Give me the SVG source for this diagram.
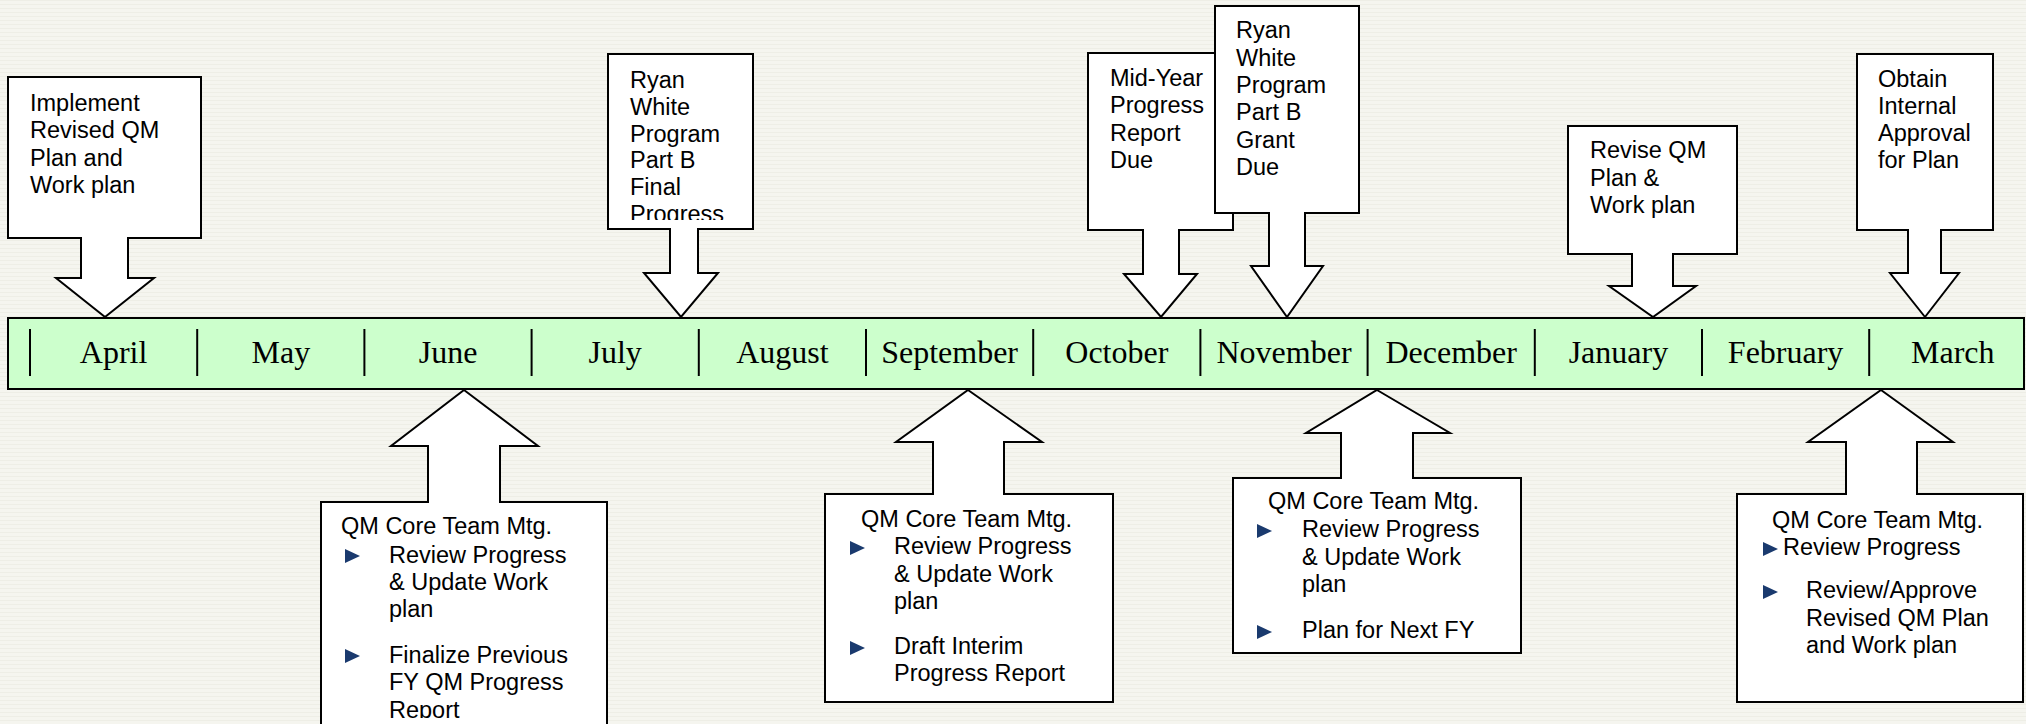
<svg xmlns="http://www.w3.org/2000/svg" width="2026" height="724" viewBox="0 0 2026 724">
<defs>
<pattern id="bg" width="4" height="4" patternUnits="userSpaceOnUse">
<rect width="4" height="4" fill="#F5F5EF"/>
<rect y="0" width="4" height="1" fill="#EEEEE6"/>
</pattern>
<clipPath id="clipFinal"><rect x="608" y="54" width="145" height="166"/></clipPath>
<clipPath id="clipJune"><rect x="321" y="502" width="286" height="216"/></clipPath>
<polygon id="bul" points="0,-14 15,-7 0,0"/>
</defs>
<style>
.co{fill:#FFFFFF;stroke:#000000;stroke-width:2;stroke-linejoin:miter}
.t{font-family:"Liberation Sans",Arial,sans-serif;font-size:23.5px;fill:#000000}
.m{font-family:"Liberation Serif","Times New Roman",serif;font-size:32px;fill:#000000;text-anchor:middle}
.dv{stroke:#000000;stroke-width:2}
.b{fill:#1A3A6E}
</style>
<rect width="2026" height="724" fill="url(#bg)"/>

<g id="timeline">
<rect x="8" y="318" width="2016" height="71" fill="#CCFFCC" stroke="#000000" stroke-width="2"/>
<line class="dv" x1="30" y1="329" x2="30" y2="376"/>
<line class="dv" x1="197.2" y1="329" x2="197.2" y2="376"/>
<line class="dv" x1="364.4" y1="329" x2="364.4" y2="376"/>
<line class="dv" x1="531.6" y1="329" x2="531.6" y2="376"/>
<line class="dv" x1="698.8" y1="329" x2="698.8" y2="376"/>
<line class="dv" x1="866" y1="329" x2="866" y2="376"/>
<line class="dv" x1="1033.2" y1="329" x2="1033.2" y2="376"/>
<line class="dv" x1="1200.4" y1="329" x2="1200.4" y2="376"/>
<line class="dv" x1="1367.6" y1="329" x2="1367.6" y2="376"/>
<line class="dv" x1="1534.8" y1="329" x2="1534.8" y2="376"/>
<line class="dv" x1="1702" y1="329" x2="1702" y2="376"/>
<line class="dv" x1="1869.2" y1="329" x2="1869.2" y2="376"/>
<text class="m" x="113.6" y="363">April</text>
<text class="m" x="280.8" y="363">May</text>
<text class="m" x="448" y="363">June</text>
<text class="m" x="615.2" y="363">July</text>
<text class="m" x="782.4" y="363">August</text>
<text class="m" x="949.6" y="363">September</text>
<text class="m" x="1116.8" y="363">October</text>
<text class="m" x="1284" y="363">November</text>
<text class="m" x="1451.2" y="363">December</text>
<text class="m" x="1618.4" y="363">January</text>
<text class="m" x="1785.6" y="363">February</text>
<text class="m" x="1952.8" y="363">March</text>
</g>

<g id="connectors"></g>

<g id="implement">
<path class="co" d="M8,77 H201 V238 H128 V278 H154 L105,317 L56,278 H81 V238 H8 Z"/>
<text class="t" x="30" y="111">Implement</text>
<text class="t" x="30" y="138">Revised QM</text>
<text class="t" x="30" y="166">Plan and</text>
<text class="t" x="30" y="193">Work plan</text>
</g>

<g id="ryan-final">
<path class="co" d="M608,54 H753 V229 H698 V273 H718 L681,317 L644,273 H670 V229 H608 Z"/>
<g clip-path="url(#clipFinal)">
<text class="t" x="630" y="88">Ryan</text>
<text class="t" x="630" y="115">White</text>
<text class="t" x="630" y="142">Program</text>
<text class="t" x="630" y="168">Part B</text>
<text class="t" x="630" y="195">Final</text>
<text class="t" x="630" y="222">Progress</text>
</g>
</g>

<g id="mid-year">
<path class="co" d="M1088,53 H1233 V230 H1179 V274 H1197 L1161,317 L1124,274 H1143 V230 H1088 Z"/>
<text class="t" x="1110" y="86">Mid-Year</text>
<text class="t" x="1110" y="113">Progress</text>
<text class="t" x="1110" y="141">Report</text>
<text class="t" x="1110" y="168">Due</text>
</g>

<g id="ryan-grant">
<path class="co" d="M1215,6 H1359 V213 H1305 V266 H1323 L1287,317 L1251,266 H1269 V213 H1215 Z"/>
<text class="t" x="1236" y="38">Ryan</text>
<text class="t" x="1236" y="66">White</text>
<text class="t" x="1236" y="93">Program</text>
<text class="t" x="1236" y="120">Part B</text>
<text class="t" x="1236" y="148">Grant</text>
<text class="t" x="1236" y="175">Due</text>
</g>

<g id="revise">
<path class="co" d="M1568,126 H1737 V254 H1673 V286 H1696 L1653,317 L1609,286 H1632 V254 H1568 Z"/>
<text class="t" x="1590" y="158">Revise QM</text>
<text class="t" x="1590" y="186">Plan &amp;</text>
<text class="t" x="1590" y="213">Work plan</text>
</g>

<g id="obtain">
<path class="co" d="M1857,54 H1993 V230 H1941 V273 H1959 L1925,317 L1890,273 H1908 V230 H1857 Z"/>
<text class="t" x="1878" y="87">Obtain</text>
<text class="t" x="1878" y="114">Internal</text>
<text class="t" x="1878" y="141">Approval</text>
<text class="t" x="1878" y="168">for Plan</text>
</g>

<g id="june-mtg">
<path class="co" d="M464,390 L538,446 H500 V502 H607 V740 H321 V502 H428 V446 H391 Z"/>
<text class="t" x="341" y="534">QM Core Team Mtg.</text>
<use href="#bul" class="b" x="345" y="563"/>
<use href="#bul" class="b" x="345" y="663"/>
<g clip-path="url(#clipJune)">
<text class="t" x="389" y="563">Review Progress</text>
<text class="t" x="389" y="590">&amp; Update Work</text>
<text class="t" x="389" y="617">plan</text>
<text class="t" x="389" y="663">Finalize Previous</text>
<text class="t" x="389" y="690">FY QM Progress</text>
<text class="t" x="389" y="718">Report</text>
</g>
</g>

<g id="sept-mtg">
<path class="co" d="M968,390 L1042,442 H1004 V494 H1113 V702 H825 V494 H933 V442 H896 Z"/>
<text class="t" x="861" y="527">QM Core Team Mtg.</text>
<use href="#bul" class="b" x="850" y="555"/>
<use href="#bul" class="b" x="850" y="655"/>
<text class="t" x="894" y="554">Review Progress</text>
<text class="t" x="894" y="582">&amp; Update Work</text>
<text class="t" x="894" y="609">plan</text>
<text class="t" x="894" y="654">Draft Interim</text>
<text class="t" x="894" y="681">Progress Report</text>
</g>

<g id="nov-mtg">
<path class="co" d="M1377,390 L1450,433 H1413 V478 H1521 V653 H1233 V478 H1341 V433 H1306 Z"/>
<text class="t" x="1268" y="509">QM Core Team Mtg.</text>
<use href="#bul" class="b" x="1257" y="538"/>
<use href="#bul" class="b" x="1257" y="639"/>
<text class="t" x="1302" y="537">Review Progress</text>
<text class="t" x="1302" y="565">&amp; Update Work</text>
<text class="t" x="1302" y="592">plan</text>
<text class="t" x="1302" y="638">Plan for Next FY</text>
</g>

<g id="march-mtg">
<path class="co" d="M1881,390 L1953,442 H1917 V494 H2023 V702 H1737 V494 H1846 V442 H1808 Z"/>
<text class="t" x="1772" y="528">QM Core Team Mtg.</text>
<use href="#bul" class="b" x="1763" y="556"/>
<use href="#bul" class="b" x="1763" y="599"/>
<text class="t" x="1783" y="555">Review Progress</text>
<text class="t" x="1806" y="598">Review/Approve</text>
<text class="t" x="1806" y="626">Revised QM Plan</text>
<text class="t" x="1806" y="653">and Work plan</text>
</g>
</svg>
